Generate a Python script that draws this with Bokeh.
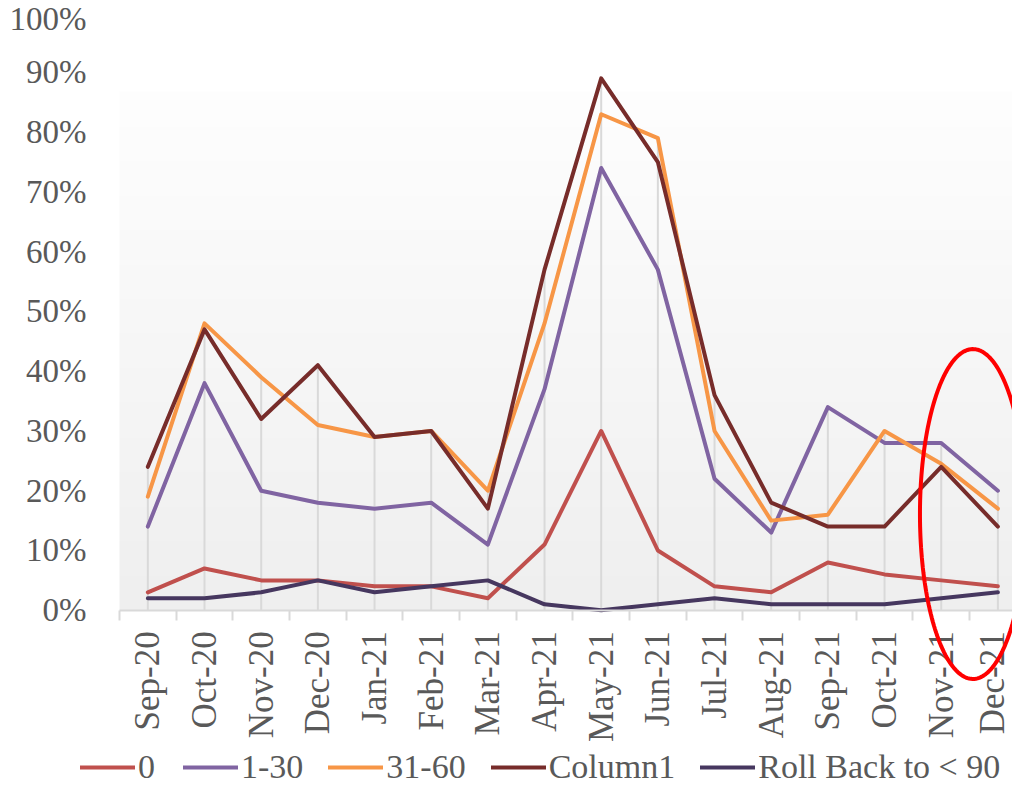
import math
import numpy as np
from bokeh.plotting import figure
from bokeh.models import (Range1d, FixedTicker, NumeralTickFormatter, Legend, LegendItem,
                          PolyAnnotation)
from bokeh.embed import file_html
from bokeh.resources import INLINE

# ---------------- data ----------------
months = ["Sep-20", "Oct-20", "Nov-20", "Dec-20", "Jan-21", "Feb-21", "Mar-21", "Apr-21",
          "May-21", "Jun-21", "Jul-21", "Aug-21", "Sep-21", "Oct-21", "Nov-21", "Dec-21"]
s_0 = [0.03, 0.07, 0.05, 0.05, 0.04, 0.04, 0.02, 0.11, 0.30, 0.10, 0.04, 0.03, 0.08, 0.06, 0.05, 0.04]
s_1_30 = [0.14, 0.38, 0.20, 0.18, 0.17, 0.18, 0.11, 0.37, 0.74, 0.57, 0.22, 0.13, 0.34, 0.28, 0.28, 0.20]
s_31_60 = [0.19, 0.48, 0.39, 0.31, 0.29, 0.30, 0.20, 0.48, 0.83, 0.79, 0.30, 0.15, 0.16, 0.30, 0.245, 0.17]
s_col1 = [0.24, 0.47, 0.32, 0.41, 0.29, 0.30, 0.17, 0.57, 0.89, 0.75, 0.36, 0.18, 0.14, 0.14, 0.24, 0.14]
s_roll = [0.02, 0.02, 0.03, 0.05, 0.03, 0.04, 0.05, 0.01, 0.00, 0.01, 0.02, 0.01, 0.01, 0.01, 0.02, 0.03]
series_names = ["0", "1-30", "31-60", "Column1", "Roll Back to < 90"]
y_ticks = [0.0, 0.1, 0.2, 0.3, 0.4, 0.5, 0.6, 0.7, 0.8, 0.9, 1.0]

colors = ["#c0504d", "#8064a2", "#f79646", "#772c2a", "#46375f"]
FONT = "Liberation Serif"
TXT = "#595959"

x = list(range(len(months)))
all_series = [s_0, s_1_30, s_31_60, s_col1, s_roll]

p = figure(width=1012, height=786, output_backend="svg", toolbar_location=None,
           x_range=Range1d(-2.6, 15.258), y_range=Range1d(-0.2949, 1.0203),
           min_border_left=0, min_border_right=0, min_border_top=0, min_border_bottom=0)
p.outline_line_color = None
p.xgrid.visible = False
p.ygrid.visible = False
p.background_fill_color = "white"
p.border_fill_color = "white"

# gradient plot-area background
n = 256
t = np.linspace(0, 1, n)  # 0 bottom -> 1 top
g = (239 + (254 - 239) * t).astype(np.uint8)
img = np.zeros((n, 1), dtype=np.uint32)
view = img.view(dtype=np.uint8).reshape((n, 1, 4))
view[:, 0, 0] = g
view[:, 0, 1] = g
view[:, 0, 2] = g
view[:, 0, 3] = 255
p.image_rgba(image=[img], x=-0.5, y=0, dw=16, dh=0.868, level="image")

# drop lines
maxv = [max(vals) for vals in zip(*all_series)]
p.segment(x0=x, y0=[0] * len(x), x1=x, y1=maxv, line_color="#d9d9d9", line_width=2)

renderers = []
for name, vals, c in zip(series_names, all_series, colors):
    r = p.line(x, vals, line_color=c, line_width=4, line_join="round", line_cap="round")
    renderers.append((name, r))

# axes
xa = p.xaxis[0]
xa.fixed_location = 0
xa.bounds = (-0.5, 15.5)
xa.ticker = FixedTicker(ticks=x, minor_ticks=[i - 0.5 for i in range(17)])
xa.major_label_overrides = {i: m for i, m in enumerate(months)}
xa.major_label_orientation = math.pi / 2
xa.major_tick_out = 0
xa.major_tick_in = 0
xa.minor_tick_out = 10
xa.minor_tick_in = 0
xa.minor_tick_line_color = "#d9d9d9"
xa.minor_tick_line_width = 2
xa.axis_line_color = "#d9d9d9"
xa.axis_line_width = 2
xa.major_label_standoff = 11
xa.major_label_text_font = FONT
xa.major_label_text_font_size = "35px"
xa.major_label_text_color = TXT

ya = p.yaxis[0]
ya.fixed_location = -0.5
ya.ticker = FixedTicker(ticks=y_ticks)
ya.formatter = NumeralTickFormatter(format="0%")
ya.axis_line_color = None
ya.major_tick_line_color = None
ya.minor_tick_line_color = None
ya.major_tick_out = 0
ya.major_tick_in = 0
ya.minor_tick_out = 0
ya.minor_tick_in = 0
ya.major_label_standoff = 33
ya.major_label_text_font = FONT
ya.major_label_text_font_size = "33px"
ya.major_label_text_color = TXT

# red ellipse annotation
th = np.linspace(0, 2 * math.pi, 200)
cx, cy, a, b = 14.56, 0.161, 0.935, 0.276
ell = PolyAnnotation(xs=list(cx + a * np.cos(th)), ys=list(cy + b * np.sin(th)),
                     fill_alpha=0, line_color="#ff0000", line_alpha=1.0, line_width=4)
p.add_layout(ell)

legend = Legend(items=[LegendItem(label=nm, renderers=[r]) for nm, r in renderers],
                orientation="horizontal", location=(80, 0),
                glyph_width=55, glyph_height=20, label_height=20, label_standoff=3, spacing=25,
                padding=0, margin=0, border_line_alpha=0, background_fill_alpha=0,
                label_text_font=FONT, label_text_font_size="34px", label_text_color=TXT)
p.add_layout(legend)

open("out.html", "w").write(file_html(p, INLINE))
